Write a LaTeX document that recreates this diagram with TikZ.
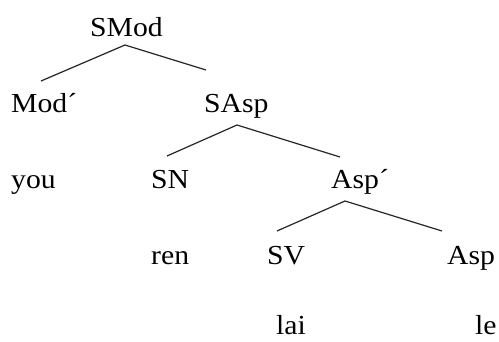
\documentclass[tikz,border=0pt]{standalone}
\usepackage{fontspec}
\setmainfont[FakeStretch=1.08]{Liberation Serif}
\begin{document}
\begin{tikzpicture}[x=1pt,y=-1pt,
  lab/.style={anchor=base west,inner sep=0pt,font=\fontsize{27.5}{30}\selectfont},
  branch/.style={line width=1.2pt,black!85}]
\clip (0,0) rectangle (499,342);
\fill[white] (0,0) rectangle (499,342);
% row 1
\node[lab] (smod) at (90,37) {SMod};
% row 2
\node[lab] (modb) at (11,113) {Mod´};
\node[lab] (sasp) at (204,113) {SAsp};
% row 3
\node[lab] (you) at (11,189) {you};
\node[lab] (sn) at (151,189) {SN};
\node[lab] (aspb) at (331,189) {Asp´};
% row 4
\node[lab] (ren) at (151,265) {ren};
\node[lab] (sv) at (267,265) {SV};
\node[lab] (asp) at (447,265) {Asp};
% row 5
\node[lab] (lai) at (276,335) {lai};
\node[lab] (le) at (475,335) {le};
% branch points
\coordinate (smodtop) at (125,45);
\coordinate (modbend) at (41,81);
\coordinate (saspend) at (206,70);
\coordinate (sasptop) at (237,125);
\coordinate (snend) at (167,156);
\coordinate (aspbend) at (340,157);
\coordinate (aspbtop) at (345,201);
\coordinate (svend) at (277,231);
\coordinate (aspend) at (442,231);
\draw[branch] (modbend) -- (smodtop) -- (saspend);
\draw[branch] (snend) -- (sasptop) -- (aspbend);
\draw[branch] (svend) -- (aspbtop) -- (aspend);
\end{tikzpicture}
\end{document}
